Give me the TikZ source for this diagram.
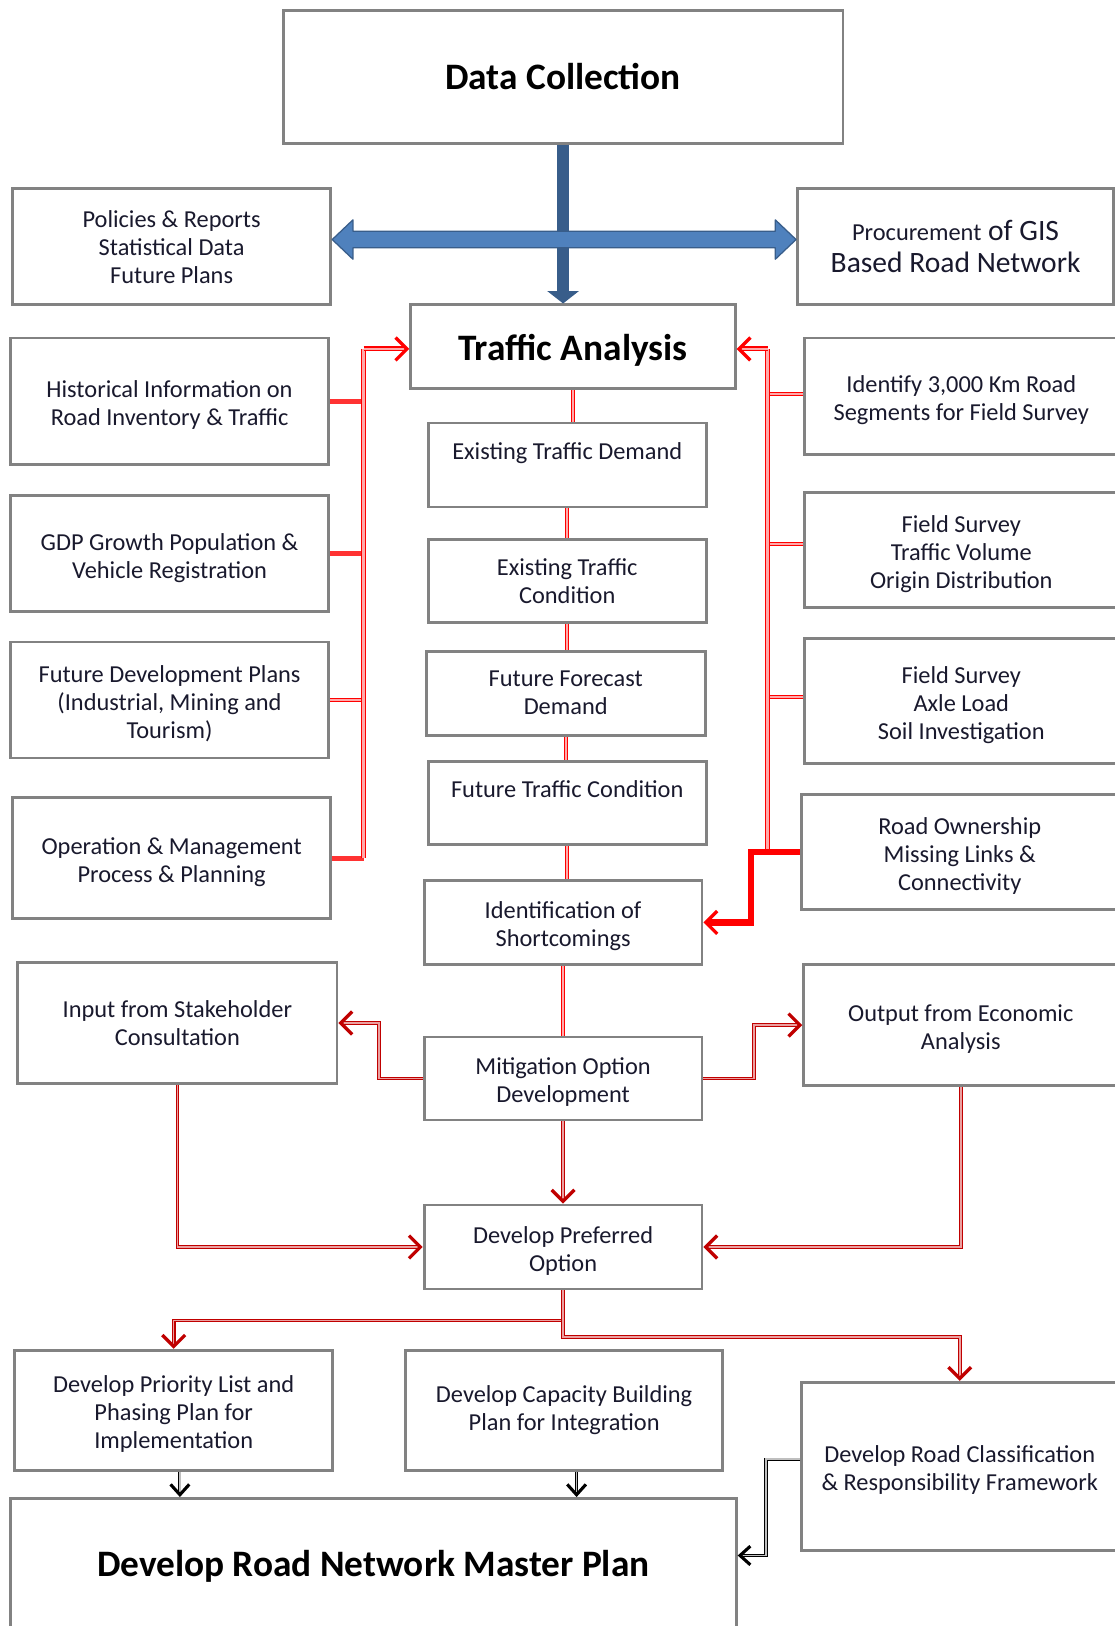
\documentclass[tikz,border=0pt]{standalone}
\usepackage{fontspec}
\setmainfont{Carlito}
\usetikzlibrary{arrows.meta,calc}
\definecolor{boxline}{RGB}{130,130,130}
\definecolor{txt}{RGB}{25,25,45}
\definecolor{bluedark}{RGB}{56,93,138}
\definecolor{bluelight}{RGB}{79,129,189}
\definecolor{brightred}{RGB}{255,0,0}
\definecolor{stubred}{RGB}{255,50,50}
\definecolor{pinkfill}{RGB}{255,170,170}
\definecolor{darkred}{RGB}{192,0,0}
\definecolor{darkpink}{RGB}{235,160,160}
% raises the first line so the text block sits slightly lower in its box
\newcommand{\lowtext}{\rule{0pt}{24pt}}
\tikzset{
  box/.style={draw=boxline, line width=2.7pt, fill=white, inner sep=0pt,
    align=center, text=txt, font=\fontsize{23.5}{27}\selectfont},
  sz/.style 2 args={minimum width=#1pt, minimum height=#2pt},
  title/.style={font=\bfseries\fontsize{36}{40}\selectfont, text=black},
  redtwin/.style={draw=brightred, line width=1pt, double=pinkfill, double distance=2pt},
  redbus/.style={draw=brightred, line width=1.2pt, double=pinkfill, double distance=2.5pt},
  redsolid/.style={draw=stubred, line width=5pt},
  redthick/.style={draw=brightred, line width=6pt},
  darktwin/.style={draw=darkred, line width=1pt, double=darkpink, double distance=1.5pt},
  blacktwin/.style={draw=black, line width=0.9pt, double=gray!50, double distance=1.2pt},
  redtip/.style={-{Straight Barb[length=11pt,width=22pt,line width=3.2pt]}},
  blacktip/.style={-{Straight Barb[length=10pt,width=18pt,line width=3pt]}}
}
\begin{document}
\begin{tikzpicture}[x=1pt,y=-1pt]
\useasboundingbox[fill=white] (0,0) rectangle (1075,1568);

% boxes
\node[box,title,sz={540}{128}] (dc) at (543,74) {Data Collection};
\node[box,sz={307}{112}] (pol) at (165.5,238) {Policies \& Reports\\Statistical Data\\Future Plans};
\node[box,sz={305}{112},font=\fontsize{28.5}{31}\selectfont] (gis) at (921.5,238)
  {{\fontsize{23.5}{31}\selectfont Procurement} of GIS\\Based Road Network};
\node[box,title,sz={313}{81}] (ta) at (552.5,334.5) {\rule{0pt}{31pt}Traffic Analysis};

\node[box,sz={307}{122}] (hist) at (163.5,387) {\lowtext Historical Information on\\Road Inventory \& Traffic};
\node[box,sz={307}{112}] (gdp) at (163.5,534) {\lowtext GDP Growth Population \&\\Vehicle Registration};
\node[box,sz={307}{112}] (fdp) at (163.5,675) {\lowtext Future Development Plans\\(Industrial, Mining and\\Tourism)};
\node[box,sz={307}{117}] (opm) at (165.5,827.5) {\lowtext Operation \& Management\\Process \& Planning};

\node[box,sz={302}{112}] (ident) at (927,382) {\lowtext Identify 3,000 Km Road\\Segments for Field Survey};
\node[box,sz={302}{111}] (fs1) at (927,530.5) {\lowtext Field Survey\\Traffic Volume\\Origin Distribution};
\node[box,sz={302}{120}] (fs2) at (927,676) {\lowtext Field Survey\\Axle Load\\Soil Investigation};
\node[box,sz={305}{111}] (own) at (925.5,821.5) {\lowtext Road Ownership\\Missing Links \&\\Connectivity};

\node[box,sz={268}{81}] (etd) at (547,448.5) {Existing Traffic Demand\\\mbox{}};
\node[box,sz={268}{80}] (etc) at (547,560) {Existing Traffic\\Condition};
\node[box,sz={269}{81}] (ffd) at (545.5,668.5) {Future Forecast\\Demand};
\node[box,sz={268}{80}] (ftc) at (547,774) {Future Traffic Condition\\\mbox{}};
\node[box,sz={268}{81}] (ios) at (543,889.5) {\lowtext Identification of\\Shortcomings};

\node[box,sz={308}{117}] (isc) at (171,986.5) {Input from Stakeholder\\Consultation};
\node[box,sz={268}{80}] (mod) at (543,1040) {\lowtext Mitigation Option\\Development};
\node[box,sz={303}{117}] (oea) at (926.5,988.5) {\lowtext Output from Economic\\Analysis};
\node[box,sz={268}{81}] (dpo) at (543,1202.5) {\lowtext Develop Preferred\\Option};

\node[box,sz={307}{116}] (dpl) at (167.5,1360) {\lowtext Develop Priority List and\\Phasing Plan for\\Implementation};
\node[box,sz={306}{116}] (dcb) at (544,1360) {Develop Capacity Building\\Plan for Integration};
\node[box,sz={305}{162}] (drc) at (925.5,1414) {\lowtext Develop Road Classification\\\& Responsibility Framework};
\node[box,title,sz={700}{130}] (rnm) at (360,1510) {Develop Road Network Master Plan};

% blue distribution arrows below the data collection box
\draw[bluedark, line width=11pt, -{Triangle[length=12pt,width=30pt]}]
  (dc.south) -- (dc.south |- ta.north);
\coordinate (hl) at ($(pol.east)+(0,-7)$);
\coordinate (hr) at (hl -| gis.west);
\filldraw[fill=bluelight, draw=bluedark, line width=1.2pt, line join=round]
  (hl) -- ++(20,-19) -- ++(0,11) -- ($(hr)+(-20,-8)$) -- ++(0,-11) -- (hr)
  -- ++(-20,19) -- ++(0,-11) -- ($(hl)+(20,8)$) -- ++(0,11) -- cycle;

% left-hand inputs feeding the traffic analysis
\coordinate (lbt) at ($(ta.west)+(-44,2)$);
\draw[redsolid] (hist.east) -- (hist.east -| lbt);
\draw[redsolid] (gdp.east) -- (gdp.east -| lbt);
\draw[redtwin] (fdp.east) -- (fdp.east -| lbt);
\draw[redsolid] (opm.east) -- (opm.east -| lbt);
\draw[redbus] (opm.east -| lbt) -- (lbt);
\draw[redbus, redtip] (lbt) -- (lbt -| ta.west);

% right-hand inputs feeding the traffic analysis
\coordinate (rbt) at ($(ta.east)+(30,2)$);
\coordinate (s1) at ($(ident.west)+(0,-2)$);
\coordinate (s2) at ($(fs1.west)+(0,-6)$);
\coordinate (s3) at ($(fs2.west)+(0,-4)$);
\draw[redtwin] (s1) -- (s1 -| rbt);
\draw[redtwin] (s2) -- (s2 -| rbt);
\draw[redtwin] (s3) -- (s3 -| rbt);
\draw[redbus] (own.west -| rbt) -- (rbt);
\draw[redbus, redtip] (rbt) -- (rbt -| ta.east);
\coordinate (ojog) at ($(ios.east)+(46,0)$);
\draw[redthick, redtip, line join=miter] (own.west) -| (ojog) -- (ios.east);

% central chain of analysis steps
\draw[redtwin] (ta.south) -- (ta.south |- etd.north);
\draw[redtwin] (etd.south) -- (etd.south |- etc.north);
\draw[redtwin] (etc.south) -- (etc.south |- ffd.north);
\draw[redtwin] (ffd.south) -- (ffd.south |- ftc.north);
\draw[redtwin] (ftc.south) -- (ftc.south |- ios.north);
\draw[redtwin] (ios.south) -- (ios.south |- mod.north);

% mitigation and preferred option
\draw[darktwin, redtip] (mod.west) -- ++(-42,0) |- (isc.east);
\draw[darktwin, redtip] (mod.east) -- ++(49,0) |- (oea.west);
\draw[darktwin, redtip] (mod.south) -- (dpo.north);
\draw[darktwin, redtip] (isc.south) |- (dpo.west);
\draw[darktwin, redtip] (oea.south) |- (dpo.east);
\draw[darktwin, redtip] (dpo.south) -- ++(0,29) -| (dpl.north);
\draw[darktwin, redtip] (dpo.south) -- ++(0,45) -| (drc.north);

% outputs combined into the master plan
\coordinate (b1) at ($(dpl.south)+(6,0)$);
\coordinate (b2) at ($(dcb.south)+(12,0)$);
\coordinate (b3) at ($(drc.west)+(0,-7)$);
\coordinate (b4) at ($(rnm.east)+(0,-10)$);
\draw[blacktwin, blacktip] (b1) -- (b1 |- rnm.north);
\draw[blacktwin, blacktip] (b2) -- (b2 |- rnm.north);
\draw[blacktwin, blacktip] (b3) -- ++(-33,0) |- (b4);
\end{tikzpicture}
\end{document}
